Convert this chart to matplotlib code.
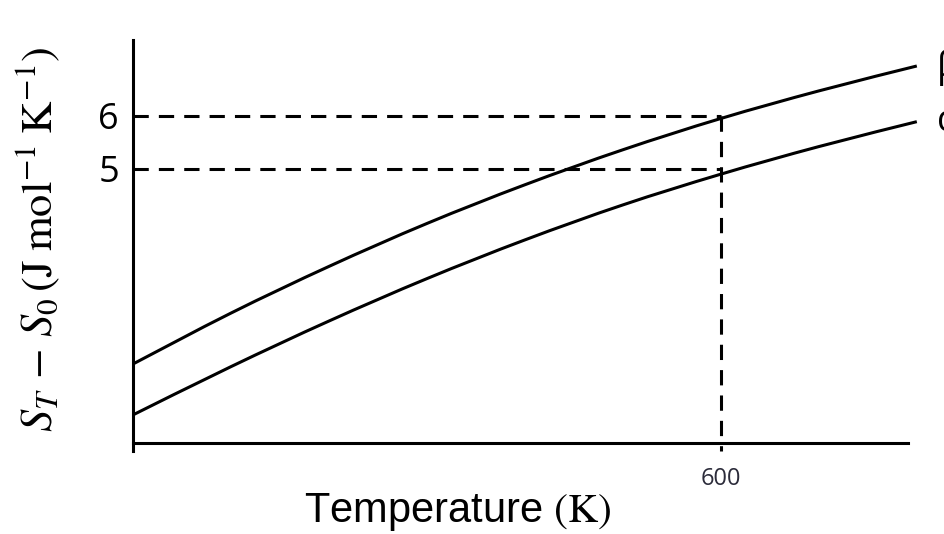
import matplotlib
matplotlib.use("Agg")
import matplotlib.pyplot as plt
from matplotlib.path import Path
from matplotlib.patches import PathPatch

plt.rcParams['mathtext.fontset'] = 'stix'

temps = [0, 100, 200, 300, 400, 500, 600, 700, 800]
beta_vals = [1.32, 2.28, 3.16, 3.97, 4.70, 5.36, 5.95, 6.47, 6.94]
alpha_vals = [0.36, 1.27, 2.13, 2.93, 3.66, 4.32, 4.90, 5.42, 5.89]
series_labels = ["β", "α"]
ref_T = 600
ref_levels = [6, 5]
ytick_labels = ["6", "5"]
xtick_labels = ["600"]

W, H = 944, 534
fig = plt.figure(figsize=(W / 100, H / 100), dpi=100)
ax = fig.add_axes([133 / W, (H - 443) / H, (908 - 133) / W, (443 - 40) / H])
ax.set_xlim(0, 791)
ax.set_ylim(-0.17, 7.43)

lw = 2.2


def smooth_path(xs, ys):
    """Catmull-Rom curve through the given points, as cubic Bezier segments."""
    pts = list(zip(xs, ys))
    verts = [pts[0]]
    codes = [Path.MOVETO]
    n = len(pts)
    for i in range(n - 1):
        p0 = pts[i - 1] if i > 0 else pts[i]
        p1 = pts[i]
        p2 = pts[i + 1]
        p3 = pts[i + 2] if i + 2 < n else pts[i + 1]
        c1 = (p1[0] + (p2[0] - p0[0]) / 6, p1[1] + (p2[1] - p0[1]) / 6)
        c2 = (p2[0] - (p3[0] - p1[0]) / 6, p2[1] - (p3[1] - p1[1]) / 6)
        verts += [c1, c2, p2]
        codes += [Path.CURVE4] * 3
    return Path(verts, codes)


for vals in (beta_vals, alpha_vals):
    patch = PathPatch(smooth_path(temps, vals), facecolor='none', edgecolor='black',
                      lw=lw, capstyle='butt', clip_on=False)
    ax.add_patch(patch)

dash = (0, (5, 3.3))
for lvl in ref_levels:
    ax.plot([0, ref_T], [lvl, lvl], color='black', lw=lw, linestyle=dash)
ax.plot([ref_T, ref_T], [ref_levels[0], -0.32], color='black', lw=lw, linestyle=dash, clip_on=False)

for s in ['top', 'right']:
    ax.spines[s].set_visible(False)
for s in ['left', 'bottom']:
    ax.spines[s].set_linewidth(2.2)
ax.spines['left'].set_bounds(-0.33, 7.43)

ax.set_xticks([ref_T])
ax.set_xticklabels(xtick_labels, fontsize=17, family='Open Sans', color='#2b2b3a')
ax.set_yticks(ref_levels)
ax.set_yticklabels(ytick_labels, fontsize=26, family='Open Sans')
ax.tick_params(axis='both', length=0)
ax.tick_params(axis='x', pad=17)
ax.tick_params(axis='y', pad=10)

# series labels at the right edge of the figure (partly cut off, as in the reference)
ax.annotate(series_labels[0], xy=(937 / W, (H - 68) / H), xycoords='figure fraction',
            fontsize=26, family='Open Sans', va='center', ha='left', annotation_clip=False)
ax.annotate(series_labels[1], xy=(937 / W, (H - 122) / H), xycoords='figure fraction',
            fontsize=26, family='Open Sans', va='center', ha='left', annotation_clip=False)

fig.text(38 / W, (H - 239) / H, r'$S_T\,-\,S_0\,(\mathrm{J\;mol^{-1}\;K^{-1}})$', rotation=90,
         fontsize=32, ha='center', va='center')
fig.text(458 / W, (H - 512) / H, r'Temperature $(\mathrm{K})$', fontsize=30,
         family='Liberation Sans', ha='center', va='center')

fig.savefig('out.png', dpi=100)
